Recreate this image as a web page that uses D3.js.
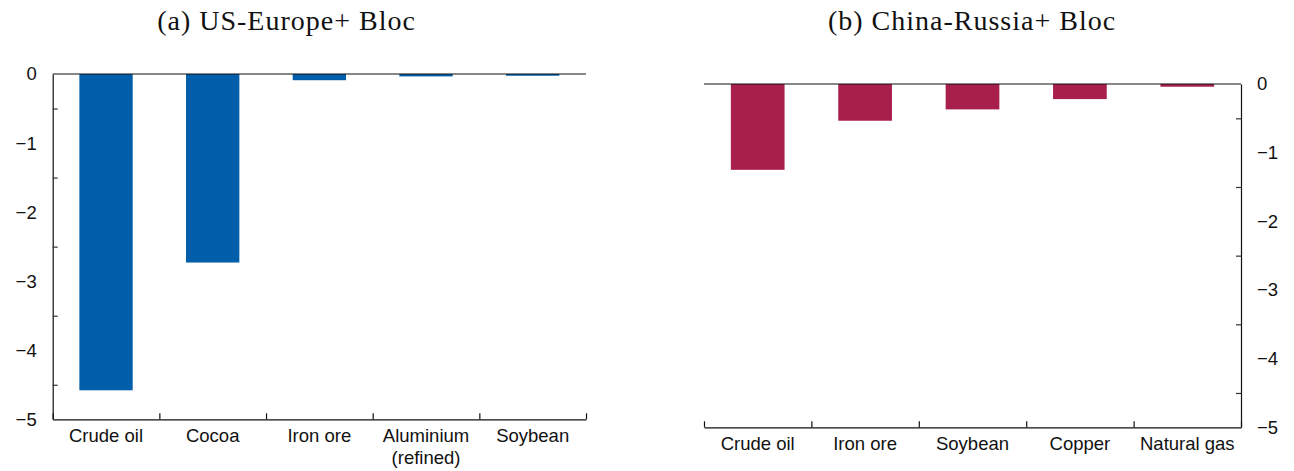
<!DOCTYPE html>
<html>
<head>
<meta charset="utf-8">
<script src="https://cdn.jsdelivr.net/npm/d3@7"></script>
<style>
  html, body { margin: 0; padding: 0; background: #fff; }
  svg { display: block; }
  .tick-label { font-family: "Liberation Sans", Arial, sans-serif; font-size: 18.5px; fill: #111; }
  .title { font-family: "Liberation Serif", "Times New Roman", serif; font-size: 28px; letter-spacing: 1px; fill: #111; }
</style>
</head>
<body>
<svg id="chart" width="1294" height="471"></svg>
<script>
// Panel (a): US-Europe+ Bloc
const usCategories = ["Crude oil", "Cocoa", "Iron ore", "Aluminium\n(refined)", "Soybean"];
const usValues = [-4.58, -2.73, -0.09, -0.035, -0.025];

// Panel (b): China-Russia+ Bloc
const cnCategories = ["Crude oil", "Iron ore", "Soybean", "Copper", "Natural gas"];
const cnValues = [-1.25, -0.535, -0.37, -0.22, -0.04];

// Shared value axis
const yDomain = [-5, 0];
const yLabelTicks = [0, -1, -2, -3, -4, -5];
const yMinorTicks = [-0.5, -1.5, -2.5, -3.5, -4.5];

const svg = d3.select("#chart");

function drawPanel(cfg) {
  const g = svg.append("g");
  const x = d3.scaleBand().domain(cfg.categories).range([cfg.x0, cfg.x1]).paddingInner(0.5).paddingOuter(0.25);
  const y = d3.scaleLinear().domain(yDomain).range([cfg.yBottom, cfg.yTop]);
  const edges = d3.scaleLinear().domain([0, cfg.categories.length]).range([cfg.x0, cfg.x1]);

  // bars
  g.selectAll("rect.bar")
    .data(cfg.values)
    .join("rect")
    .attr("class", "bar")
    .attr("x", (d, i) => x(cfg.categories[i]))
    .attr("width", x.bandwidth())
    .attr("y", d => y(Math.max(0, d)))
    .attr("height", d => Math.abs(y(d) - y(0)))
    .attr("fill", cfg.color);

  // zero line
  g.append("line")
    .attr("x1", cfg.x0).attr("x2", cfg.x1)
    .attr("y1", y(0)).attr("y2", y(0))
    .attr("stroke", "#111").attr("stroke-width", 1.2);

  // bottom axis line with boundary ticks pointing up
  const bottom = g.append("g").attr("transform", `translate(0,${cfg.yBottom})`)
    .call(d3.axisBottom(edges).tickValues(d3.range(cfg.categories.length + 1)).tickSize(-6).tickSizeOuter(0).tickFormat(""));
  bottom.select(".domain").attr("stroke", "#111").attr("stroke-width", 1.2);
  bottom.selectAll(".tick line").attr("stroke", "#111").attr("stroke-width", 1.2);

  // category labels
  const labels = g.append("g").attr("class", "tick-label");
  cfg.categories.forEach(c => {
    const lines = c.split("\n");
    const t = labels.append("text")
      .attr("text-anchor", "middle")
      .attr("x", x(c) + x.bandwidth() / 2)
      .attr("y", cfg.yBottom + 23);
    lines.forEach((ln, k) => {
      t.append("tspan").attr("x", x(c) + x.bandwidth() / 2).attr("dy", k === 0 ? 0 : 21.5).text(ln);
    });
  });

  // value axis: line plus minor ticks on the inside
  const axisX = cfg.side === "left" ? cfg.x0 : cfg.x1;
  const axisGen = cfg.side === "left" ? d3.axisLeft(y) : d3.axisRight(y);
  const minor = g.append("g").attr("transform", `translate(${axisX},0)`)
    .call(axisGen.tickValues(yMinorTicks).tickSize(-5).tickSizeOuter(0).tickFormat(""));
  minor.select(".domain").attr("stroke", "#111").attr("stroke-width", 1.2);
  minor.selectAll(".tick line").attr("stroke", "#333").attr("stroke-width", 1.2);

  // value labels
  const fmt = v => v === 0 ? "0" : "\u2212" + Math.abs(v);
  g.append("g").selectAll("text")
    .data(yLabelTicks)
    .join("text")
    .attr("class", "tick-label")
    .attr("x", cfg.side === "left" ? axisX - 16 : axisX + 16)
    .attr("y", d => y(d))
    .attr("dy", "0.35em")
    .attr("text-anchor", cfg.side === "left" ? "end" : "start")
    .text(fmt);

  // title
  svg.append("text")
    .attr("class", "title")
    .attr("x", cfg.titleX)
    .attr("y", 30)
    .attr("text-anchor", "middle")
    .text(cfg.title);
}

drawPanel({
  categories: usCategories, values: usValues, color: "#005EAA",
  x0: 52.7, x1: 586, yTop: 74, yBottom: 419.3, side: "left",
  title: "(a) US-Europe+ Bloc", titleX: 286.5
});

drawPanel({
  categories: cnCategories, values: cnValues, color: "#A91F4B",
  x0: 704, x1: 1241, yTop: 84, yBottom: 427.3, side: "right",
  title: "(b) China-Russia+ Bloc", titleX: 972
});
</script>
</body>
</html>
